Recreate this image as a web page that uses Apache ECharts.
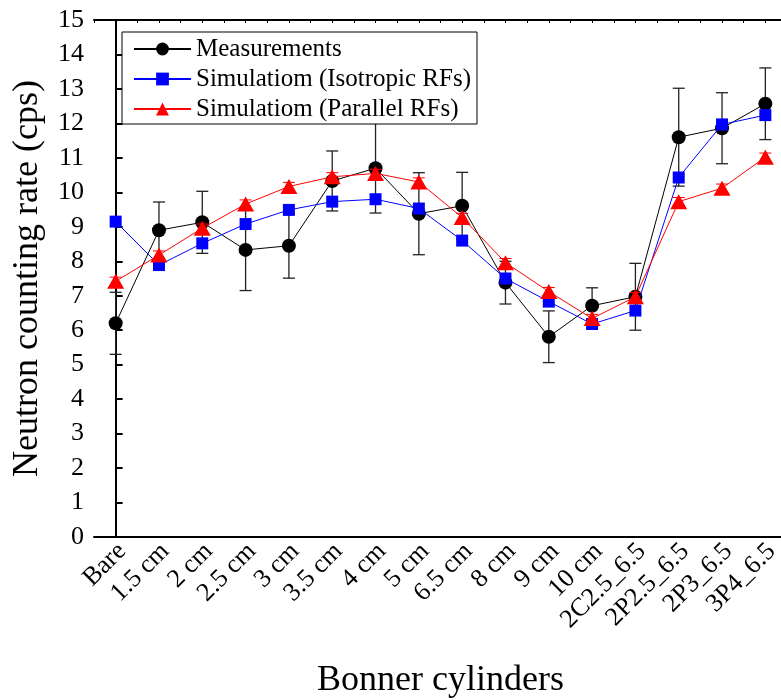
<!DOCTYPE html>
<html>
<head>
<meta charset="utf-8">
<script src="https://cdn.jsdelivr.net/npm/echarts@6/dist/echarts.min.js"></script>
<style>
  html, body { margin: 0; padding: 0; background: #fff; overflow: hidden; }
  #chart { width: 781px; height: 700px; }
</style>
</head>
<body>
<div id="chart"></div>
<script>
  // valores
  const categorias = ['Bare', '1.5 cm', '2 cm', '2.5 cm', '3 cm', '3.5 cm', '4 cm', '5 cm', '6.5 cm', '8 cm', '9 cm', '10 cm', '2C2.5_6.5', '2P2.5_6.5', '2P3_6.5', '3P4_6.5'];
  const medidas = [6.2, 8.9, 9.13, 8.33, 8.45, 10.33, 10.7, 9.38, 9.61, 7.38, 5.81, 6.71, 6.97, 11.6, 11.86, 12.57];
  const medidasErro = [0.9, 0.82, 0.9, 1.18, 0.94, 0.87, 1.3, 1.19, 0.97, 0.62, 0.75, 0.52, 0.97, 1.42, 1.03, 1.04];
  const isotropico = [9.15, 7.89, 8.52, 9.08, 9.49, 9.73, 9.8, 9.53, 8.6, 7.5, 6.83, 6.18, 6.57, 10.43, 11.97, 12.24];
  const paralelo = [7.42, 8.18, 8.96, 9.66, 10.17, 10.45, 10.55, 10.3, 9.27, 7.96, 7.12, 6.34, 6.97, 9.73, 10.12, 11.02];
  const paraleloErro = [0.12, 0.12, 0.12, 0.12, 0.12, 0.12, 0.12, 0.12, 0.12, 0.12, 0.12, 0.12, 0.12, 0.12, 0.12, 0.12];

  const fonte = 'Liberation Serif, Times New Roman, serif';

  // monta os dados [indice, baixo, alto] para as barras de erro
  function barras(valores, erros) {
    return valores.map((v, i) => [i, v - erros[i], v + erros[i]]);
  }

  function desenharErro(cor, largura) {
    return function (params, api) {
      const x = api.value(0);
      const p1 = api.coord([x, api.value(1)]);
      const p2 = api.coord([x, api.value(2)]);
      const w = 6;
      const estilo = { stroke: cor, lineWidth: largura };
      return {
        type: 'group',
        children: [
          { type: 'line', shape: { x1: p1[0], y1: p1[1], x2: p2[0], y2: p2[1] }, style: estilo },
          { type: 'line', shape: { x1: p1[0] - w, y1: p1[1], x2: p1[0] + w, y2: p1[1] }, style: estilo },
          { type: 'line', shape: { x1: p2[0] - w, y1: p2[1], x2: p2[0] + w, y2: p2[1] }, style: estilo }
        ]
      };
    };
  }

  const chart = echarts.init(document.getElementById('chart'));

  chart.setOption({
    animation: false,
    textStyle: { fontFamily: fonte },
    grid: { left: 94, top: 20, bottom: 163, right: -6, containLabel: false, outerBoundsMode: 'none' },
    legend: {
      data: ['Measurements', 'Simulatiom (Isotropic RFs)', 'Simulatiom (Parallel RFs)'],
      orient: 'vertical',
      left: 122,
      top: 32,
      padding: [3, 6, 1, 11],
      itemGap: 2,
      itemWidth: 57,
      itemHeight: 16,
      backgroundColor: '#fff',
      borderColor: '#000',
      borderWidth: 1,
      borderRadius: 0,
      z: 20,
      textStyle: { fontFamily: fonte, fontSize: 25, color: '#000', lineHeight: 28 }
    },
    xAxis: [
      {
        type: 'category',
        data: categorias,
        boundaryGap: true,
        name: 'Bonner cylinders',
        nameLocation: 'middle',
        nameGap: 126,
        nameTextStyle: { fontFamily: fonte, fontSize: 36, color: '#000' },
        axisLine: { lineStyle: { color: '#000', width: 2 } },
        axisTick: { inside: true, alignWithLabel: true, length: 8, lineStyle: { color: '#000', width: 2 } },
        axisLabel: {
          rotate: 45, margin: 4, verticalAlign: 'top', lineHeight: 18,
          fontFamily: fonte, fontSize: 26, color: '#000', interval: 0
        },
        splitLine: { show: false }
      },
      {
        type: 'value',
        position: 'top',
        min: -0.5,
        max: 15.5,
        interval: 0.5,
        axisLine: { show: true, lineStyle: { color: '#000', width: 2 } },
        axisTick: { inside: true, length: 3, lineStyle: { color: '#000', width: 1 } },
        axisLabel: { show: false },
        splitLine: { show: false }
      }
    ],
    yAxis: {
      type: 'value',
      min: 0,
      max: 15,
      interval: 1,
      name: 'Neutron counting rate (cps)',
      nameLocation: 'middle',
      nameGap: 48,
      nameTextStyle: { fontFamily: fonte, fontSize: 36, color: '#000' },
      axisLine: { show: true, lineStyle: { color: '#000', width: 2 } },
      axisTick: { show: true, inside: true, length: 7, lineStyle: { color: '#000', width: 2 } },
      axisLabel: { margin: 10, fontFamily: fonte, fontSize: 26, color: '#000' },
      splitLine: { show: false }
    },
    series: [
      {
        name: 'erroMedidas',
        type: 'custom',
        renderItem: desenharErro('#222', 1.3),
        data: barras(medidas, medidasErro),
        z: 1
      },
      {
        name: 'Measurements',
        type: 'line',
        data: medidas,
        symbol: 'circle',
        symbolSize: 14,
        itemStyle: { color: '#000' },
        lineStyle: { color: '#000', width: 1 },
        z: 2
      },
      {
        name: 'Simulatiom (Isotropic RFs)',
        type: 'line',
        data: isotropico,
        symbol: 'rect',
        symbolSize: 12,
        itemStyle: { color: '#0000ff' },
        lineStyle: { color: '#0000ff', width: 1 },
        z: 3
      },
      {
        name: 'erroParalelo',
        type: 'custom',
        renderItem: desenharErro('#ff0000', 1),
        data: barras(paralelo, paraleloErro),
        z: 4
      },
      {
        name: 'Simulatiom (Parallel RFs)',
        type: 'line',
        data: paralelo,
        symbol: 'triangle',
        symbolSize: [17, 15],
        itemStyle: { color: '#ff0000' },
        lineStyle: { color: '#ff0000', width: 1 },
        z: 5
      }
    ]
  });
</script>
</body>
</html>
